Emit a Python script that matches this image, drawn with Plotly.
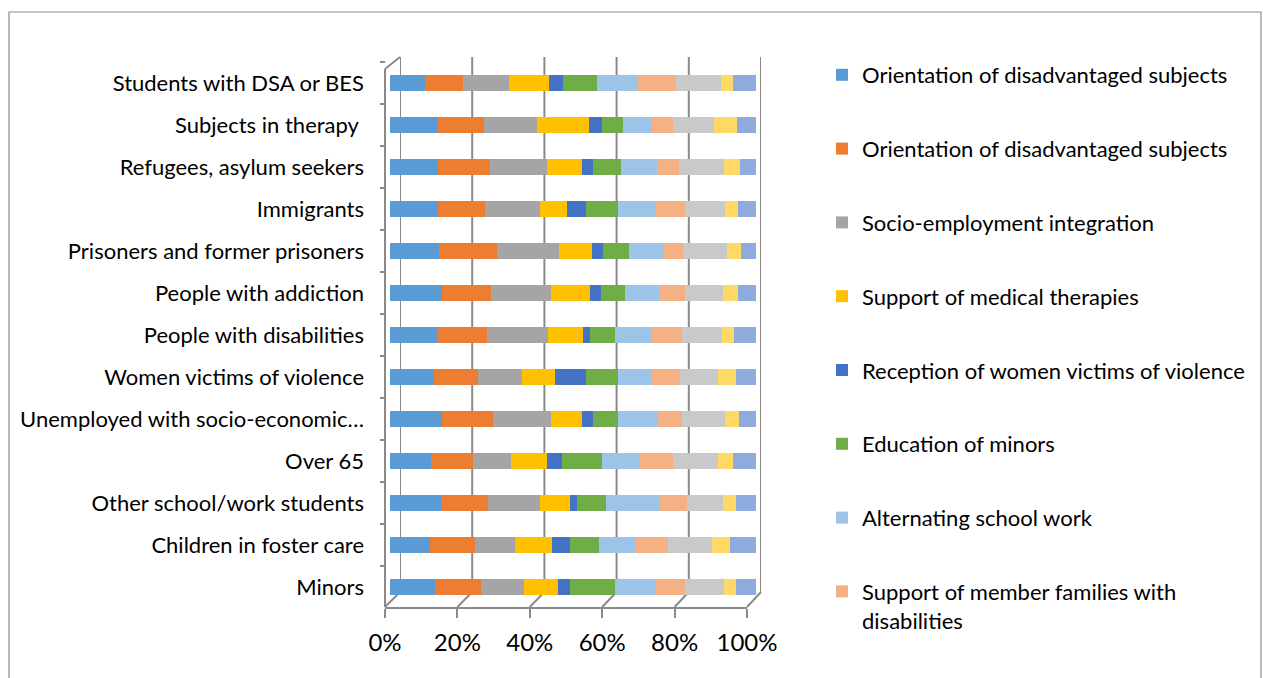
import plotly.graph_objects as go

# Target groups, listed top to bottom as they appear on the chart
groups = [
    "Students with DSA or BES",
    "Subjects in therapy\u00a0",
    "Refugees, asylum seekers",
    "Immigrants",
    "Prisoners and former prisoners",
    "People with addiction",
    "People with disabilities",
    "Women victims of violence",
    "Unemployed with socio-economic\u2026",
    "Over 65",
    "Other school/work students",
    "Children in foster care",
    "Minors",
]

# Share of each activity per group (values in %, same order as groups)
orientation_a = [9.6, 13.0, 13.0, 13.0, 13.5, 14.2, 12.8, 12.1, 14.2, 11.1, 14.0, 11.0, 12.3]
orientation_b = [10.3, 12.8, 14.4, 13.1, 15.7, 13.4, 13.7, 11.9, 13.9, 11.7, 12.8, 12.1, 12.5]
socio_employment = [12.5, 14.4, 15.5, 14.9, 17.1, 16.4, 16.7, 12.2, 16.0, 10.3, 14.1, 11.1, 11.7]
medical_therapies = [11.0, 14.2, 9.6, 7.3, 8.8, 10.6, 9.5, 8.8, 8.5, 9.8, 8.2, 10.0, 9.3]
women_reception = [3.9, 3.5, 2.9, 5.2, 3.1, 2.9, 1.9, 8.6, 2.9, 4.1, 2.1, 5.0, 3.3]
minors_education = [9.1, 5.8, 7.8, 8.9, 7.1, 6.6, 6.8, 8.7, 6.9, 10.8, 8.0, 7.9, 12.5]
alternating_school = [11.4, 8.0, 9.7, 10.4, 9.4, 9.4, 10.2, 9.1, 11.0, 10.5, 14.3, 10.1, 10.8]
family_support = [10.2, 5.7, 6.1, 7.8, 5.4, 7.0, 8.0, 7.8, 6.4, 8.9, 7.6, 8.7, 8.1]
series_9 = [12.3, 11.2, 12.3, 11.0, 12.1, 10.5, 11.0, 10.3, 11.9, 12.5, 10.0, 11.9, 10.8]
series_10 = [3.2, 6.1, 4.3, 3.5, 3.7, 4.1, 3.4, 5.0, 3.7, 4.1, 3.5, 5.0, 3.2]
series_11 = [6.4, 5.3, 4.4, 5.0, 4.1, 4.8, 5.9, 5.5, 4.7, 6.2, 5.5, 7.0, 5.5]

series_names = [
    "Orientation of disadvantaged subjects",
    "Orientation of disadvantaged subjects",
    "Socio-employment integration",
    "Support of medical therapies",
    "Reception of women victims of violence",
    "Education of minors",
    "Alternating school work",
    "Support of member families with<br>disabilities",
    "Series 9",
    "Series 10",
    "Series 11",
]
series_values = [
    orientation_a, orientation_b, socio_employment, medical_therapies,
    women_reception, minors_education, alternating_school, family_support,
    series_9, series_10, series_11,
]
series_colors = [
    "#5B9BD5", "#ED7D31", "#A5A5A5", "#FFC000", "#4472C4", "#70AD47",
    "#9DC3E6", "#F4B183", "#C9C9C9", "#FFD966", "#8FAADC",
]
legend_count = 8

tick_values = [0, 20, 40, 60, 80, 100]
tick_labels = ["0%", "20%", "40%", "60%", "80%", "100%"]

W, H = 1263, 678
FONT = "Lato"
GRID = "#8a8a8a"


def px(x):
    return x / W


def py(y):
    return 1 - y / H


# pixel geometry of the pseudo-3D box
BAR_X = (390, 756)      # bar plane
FRONT_X = (385, 747)    # floor front edge (tick labels)
BACK_X = (400, 761)     # back wall (gridlines)
FLOOR_FRONT_Y, FLOOR_BACK_Y = 607, 592
WALL_TOP_FRONT_Y, WALL_TOP_BACK_Y = 69, 57

fig = go.Figure()
for i, (name, vals, col) in enumerate(zip(series_names, series_values, series_colors)):
    fig.add_trace(go.Bar(
        y=groups, x=vals, name=name, orientation="h",
        marker=dict(color=col, line=dict(width=0)),
        width=0.38,
        showlegend=i < legend_count,
        legendgroup=f"g{i}",
        hoverinfo="x+y+name",
    ))

# invisible carrier so the floor axis (x2/y2) gets its own subplot
fig.add_trace(go.Scatter(
    x=[tick_values[0], tick_values[-1]], y=[0, 0], xaxis="x2", yaxis="y2",
    mode="markers", marker=dict(opacity=0), showlegend=False, hoverinfo="skip",
))

shapes = []
# outer frame
shapes.append(dict(type="rect", xref="paper", yref="paper",
                   x0=px(9), x1=px(1261), y0=py(12), y1=py(700),
                   line=dict(color="#8c8c8c", width=1.2), layer="below"))
# back-wall gridlines
for t in tick_values:
    shapes.append(dict(type="line", xref="x3", yref="paper", x0=t, x1=t,
                       y0=py(FLOOR_BACK_Y), y1=py(WALL_TOP_BACK_Y),
                       line=dict(color=GRID, width=2), layer="below"))
    # floor edge connecting front tick to back gridline
    fx = FRONT_X[0] + (FRONT_X[1] - FRONT_X[0]) * t / 100
    bx = BACK_X[0] + (BACK_X[1] - BACK_X[0]) * t / 100
    shapes.append(dict(type="line", xref="paper", yref="paper",
                       x0=px(fx), x1=px(bx), y0=py(FLOOR_FRONT_Y), y1=py(FLOOR_BACK_Y),
                       line=dict(color=GRID, width=2), layer="below"))
# side wall
shapes.append(dict(type="line", xref="paper", yref="paper",
                   x0=px(FRONT_X[0]), x1=px(FRONT_X[0]),
                   y0=py(FLOOR_FRONT_Y), y1=py(WALL_TOP_FRONT_Y),
                   line=dict(color=GRID, width=2), layer="below"))
shapes.append(dict(type="line", xref="paper", yref="paper",
                   x0=px(FRONT_X[0]), x1=px(BACK_X[0]),
                   y0=py(WALL_TOP_FRONT_Y), y1=py(WALL_TOP_BACK_Y),
                   line=dict(color=GRID, width=2), layer="below"))

fig.update_layout(
    width=W, height=H,
    margin=dict(l=0, r=0, t=0, b=0, autoexpand=False),
    paper_bgcolor="white", plot_bgcolor="rgba(0,0,0,0)",
    barmode="stack", barnorm="percent",
    font=dict(family=FONT, size=22, color="black"),
    shapes=shapes,
    xaxis=dict(domain=[px(BAR_X[0]), px(BAR_X[1])], range=[0, 100],
               showgrid=False, zeroline=False, showline=False,
               showticklabels=False, ticks="", fixedrange=True,
               automargin=False),
    # floor front edge with the percentage ticks
    xaxis2=dict(domain=[px(FRONT_X[0]), px(FRONT_X[1])], range=[0, 100],
                anchor="y2", automargin=False,
                showgrid=False, zeroline=False,
                showline=True, linecolor=GRID, linewidth=2,
                ticks="outside", ticklen=9, tickwidth=2, tickcolor=GRID,
                tickmode="array", tickvals=tick_values, ticktext=tick_labels,
                tickfont=dict(family=FONT, size=24, color="black"),
                ticklabelstandoff=4),
    yaxis2=dict(domain=[py(FLOOR_FRONT_Y), py(FLOOR_FRONT_Y - 2)],
                anchor="x2", range=[-1, 1], visible=False, automargin=False),
    xaxis3=dict(domain=[px(BACK_X[0]), px(BACK_X[1])], range=[0, 100],
                anchor="free", position=0, visible=False, automargin=False),
    yaxis=dict(domain=[py(608), py(62)], autorange="reversed",
               type="category", anchor="free", position=px(FRONT_X[0]),
               automargin=False,
               showgrid=False, zeroline=False, showline=False,
               ticks="outside", tickson="boundaries", ticklen=5,
               tickwidth=1.5, tickcolor=GRID,
               tickfont=dict(family=FONT, size=22, color="black"),
               ticklabelstandoff=21),
    legend=dict(x=px(822), y=py(54), xanchor="left", yanchor="top",
                traceorder="grouped", tracegroupgap=42.2,
                font=dict(family=FONT, size=22, color="black"),
                bgcolor="rgba(0,0,0,0)", valign="top",
                itemclick=False, itemdoubleclick=False),
    bargap=0.62,
)

fig.write_html("out.html")
